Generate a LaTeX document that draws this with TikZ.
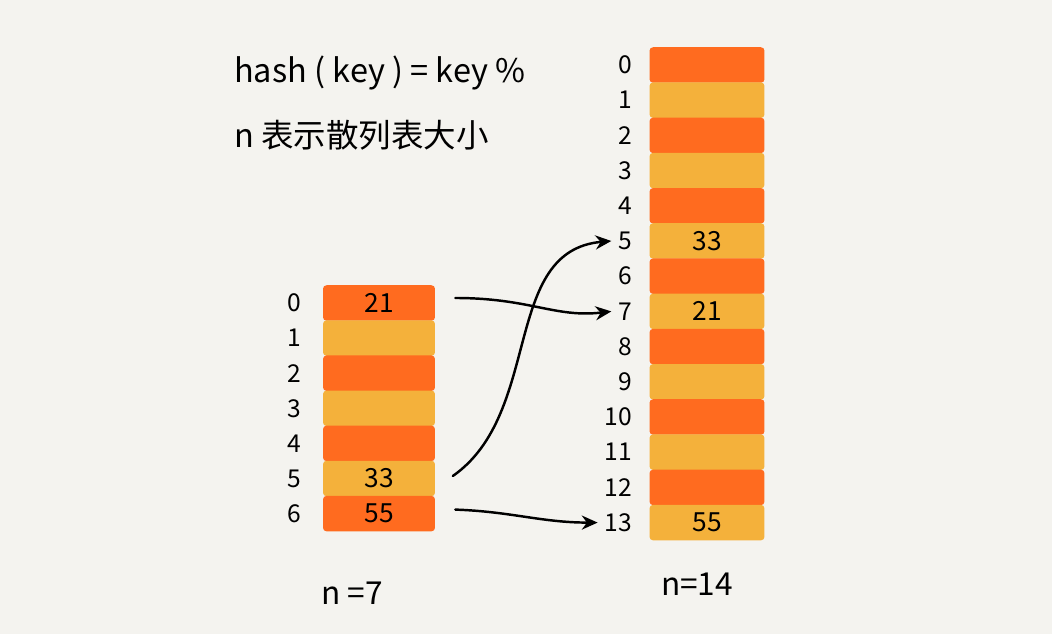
\documentclass[tikz,border=0pt]{standalone}
\usepackage{fontspec}
\setmainfont{Noto Sans CJK SC}
\usepackage{xcolor}
\usetikzlibrary{positioning, arrows.meta}

\definecolor{paper}{HTML}{F4F3EF}
\definecolor{deeporange}{HTML}{FF6B1F}
\definecolor{paleorange}{HTML}{F4B13B}

\begin{document}
\begin{tikzpicture}[x=0.02cm, y=-0.02cm, >={Stealth[length=9pt, width=8pt]}]

    % Page with the paper colour
    \useasboundingbox[fill=paper] (0,0) rectangle (1052,634);

    \tikzset{
        cell/.style={rectangle, rounded corners=2pt, inner sep=0pt, minimum height=0.71cm, font=\fontsize{15}{15}\selectfont},
        idx/.style={inner sep=1pt, font=\fontsize{14}{14}\selectfont},
        link/.style={->, line width=1.4pt, line cap=round}
    }

    % Formula in the upper left
    \node[anchor=west, font=\fontsize{18.5}{18.5}\selectfont] (formula) at (228,73) {hash ( key ) = key \%};
    \node[anchor=west, font=\fontsize{18.5}{18.5}\selectfont] (note) at (228,135) {n 表示散列表大小};

    % Table with n=7
    \foreach \i/\txt in {0/21, 1/, 2/, 3/, 4/, 5/33, 6/55} {
        \pgfmathsetmacro{\shade}{mod(\i,2)==0 ? 1 : 0}
        \ifdim\shade pt>0.5pt
            \node[cell, fill=deeporange, minimum width=2.24cm] (l\i) at (379,{303+35.1*\i}) {\txt};
        \else
            \node[cell, fill=paleorange, minimum width=2.24cm] (l\i) at (379,{303+35.1*\i}) {\txt};
        \fi
        \node[idx, left=0.38cm of l\i] (ll\i) {\i};
    }

    % Table with n=14
    \foreach \i/\txt in {0/, 1/, 2/, 3/, 4/, 5/33, 6/, 7/21, 8/, 9/, 10/, 11/, 12/, 13/55} {
        \pgfmathsetmacro{\shade}{mod(\i,2)==0 ? 1 : 0}
        \ifdim\shade pt>0.5pt
            \node[cell, fill=deeporange, minimum width=2.3cm] (r\i) at (707,{65+35.2*\i}) {\txt};
        \else
            \node[cell, fill=paleorange, minimum width=2.3cm] (r\i) at (707,{65+35.2*\i}) {\txt};
        \fi
        \node[idx, left=0.3cm of r\i] (rl\i) {\i};
    }

    % Sizes under the tables
    \node[font=\fontsize{18}{18}\selectfont] (small) at (352,593) {n =7};
    \node[font=\fontsize{18}{18}\selectfont] (big) at (697,584) {n=14};

    % Moves from the old table to the new one
    \draw[link] ([xshift=0.4cm, yshift=0.1cm]l0.east) .. controls (530,298) and (555,318) .. ([xshift=-0.1cm]rl7.west);
    \draw[link] ([xshift=0.35cm, yshift=0.05cm]l5.east) to[out=35, in=185] ([xshift=-0.1cm]rl5.west);
    \draw[link] ([xshift=0.4cm, yshift=0.08cm]l6.east) to[out=-2, in=180] ([xshift=-0.1cm]rl13.west);

\end{tikzpicture}
\end{document}
